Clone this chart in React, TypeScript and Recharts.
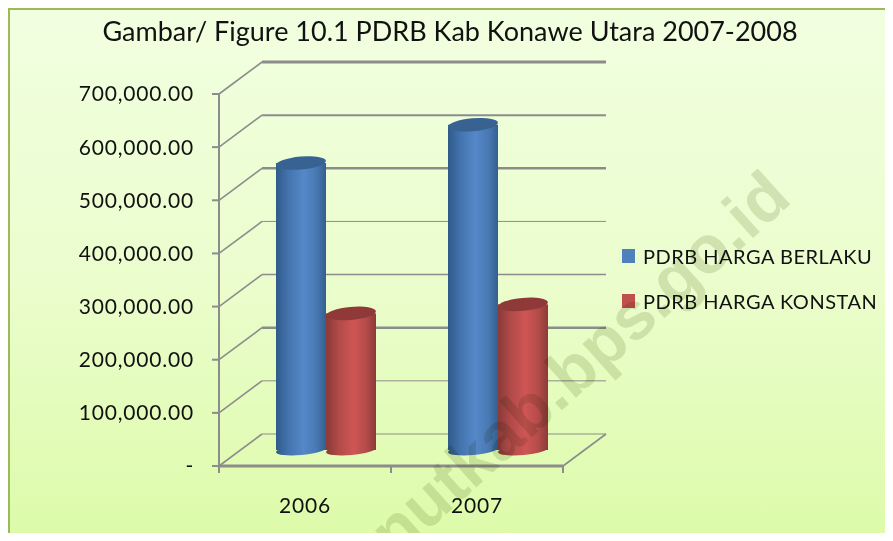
import { Bar, BarChart, CartesianGrid, Legend, XAxis, YAxis } from "recharts";

const years = ["2006", "2007"];
const hargaBerlaku = [540000, 612000];
const hargaKonstan = [257000, 274000];
const yTicks = [0, 100000, 200000, 300000, 400000, 500000, 600000, 700000];

// wall line weights, bottom to top
const wallWeights = [1, 1, 2.5, 1.5, 1, 2.5, 2, 3];

const chartData = years.map((year, i) => ({
  year,
  berlaku: hargaBerlaku[i],
  konstan: hargaKonstan[i],
}));

const FONT = "Lato, 'Open Sans', sans-serif";
const AXIS = "#8c8c8c";
const DEPTH_X = 43;
const DEPTH_Y = 32;
const BAR_DX = 21;
const BAR_DY = 16;

const formatTick = (v: number) =>
  v === 0
    ? "-"
    : v.toLocaleString("en-US", { minimumFractionDigits: 2, maximumFractionDigits: 2 });

function WallLine(props: any) {
  const { x1, x2, y1, index } = props;
  const backY = y1 - DEPTH_Y;
  return (
    <g key={`wall-${index}`}>
      <line x1={x1} y1={y1} x2={x1 + DEPTH_X} y2={backY} stroke={AXIS} strokeWidth={1.6} />
      <line
        x1={x1 + DEPTH_X}
        y1={backY}
        x2={x2 + DEPTH_X}
        y2={backY}
        stroke={AXIS}
        strokeWidth={wallWeights[index] ?? 1}
      />
      {index === 0 && (
        <line x1={x2} y1={y1} x2={x2 + DEPTH_X} y2={backY} stroke={AXIS} strokeWidth={1.6} />
      )}
    </g>
  );
}

function Cylinder(props: any) {
  const { x, y, width, height, gradient, cap } = props;
  const left = x + BAR_DX;
  const top = y - BAR_DY;
  const cx = left + width / 2;
  const bottom = top + height;
  return (
    <g>
      <ellipse
        cx={cx}
        cy={bottom}
        rx={width / 2}
        ry={5}
        fill={`url(#${gradient})`}
        transform={`rotate(-5 ${cx} ${bottom})`}
      />
      <rect x={left} y={top} width={width} height={height} fill={`url(#${gradient})`} />
      <ellipse
        cx={cx}
        cy={top}
        rx={width / 2}
        ry={6.5}
        fill={cap}
        transform={`rotate(-5 ${cx} ${top})`}
      />
    </g>
  );
}

function YearTick(props: any) {
  const { x, y, width, visibleTicksCount, payload, index } = props;
  const band = width / visibleTicksCount;
  const left = x - band / 2;
  return (
    <g>
      <line x1={left} y1={y - 8} x2={left} y2={y - 1} stroke={AXIS} strokeWidth={2} />
      {index === visibleTicksCount - 1 && (
        <line x1={left + band} y1={y - 8} x2={left + band} y2={y - 1} stroke={AXIS} strokeWidth={2} />
      )}
      <text x={x} y={y + 39} textAnchor="middle" fontFamily={FONT} fontSize={21} letterSpacing={0.8} fill="#111">
        {payload.value}
      </text>
    </g>
  );
}

function LegendBox({ payload }: any) {
  return (
    <div>
      {(payload ?? []).map((item: any) => (
        <div
          key={item.value}
          style={{ display: "flex", alignItems: "center", height: 45, whiteSpace: "nowrap" }}
        >
          <span style={{ width: 13, height: 14, marginRight: 8, background: item.color }} />
          <span style={{ fontFamily: FONT, fontSize: 20, color: "#111", letterSpacing: 0.5 }}>
            {item.value}
          </span>
        </div>
      ))}
    </div>
  );
}

export default function App() {
  return (
    <div
      style={{
        position: "relative",
        width: 893,
        height: 541,
        margin: -8,
        overflow: "hidden",
        background: "#fff",
      }}
    >
      <div
        style={{
          position: "absolute",
          left: 7,
          top: 7,
          width: 900,
          height: 540,
          boxSizing: "border-box",
          borderLeft: "3px solid #9bbb59",
          borderTop: "3px solid #9bbb59",
          background: "linear-gradient(180deg, #f1ffe0 0%, #ebfdcd 50%, #dcfba8 100%)",
        }}
      />
      <div
        style={{
          position: "absolute",
          left: 0,
          top: 14,
          width: 900,
          textAlign: "center",
          fontFamily: FONT,
          fontSize: 27,
          color: "#111",
          whiteSpace: "nowrap",
        }}
      >
        Gambar/ Figure 10.1 PDRB Kab Konawe Utara 2007-2008
      </div>
      <div style={{ position: "absolute", left: 0, top: 0 }}>
        <BarChart
          width={893}
          height={541}
          data={chartData}
          barSize={50}
          barGap={0}
          margin={{ top: 94, right: 330, bottom: 45, left: 0 }}
        >
          <defs>
            <linearGradient id="blueBody" x1="0" y1="0" x2="1" y2="0">
              <stop offset="0%" stopColor="#2f5a8a" />
              <stop offset="25%" stopColor="#4474ae" />
              <stop offset="55%" stopColor="#5588c9" />
              <stop offset="80%" stopColor="#4a7ab5" />
              <stop offset="100%" stopColor="#345f8f" />
            </linearGradient>
            <linearGradient id="redBody" x1="0" y1="0" x2="1" y2="0">
              <stop offset="0%" stopColor="#8a3a38" />
              <stop offset="25%" stopColor="#b04a48" />
              <stop offset="55%" stopColor="#ce5655" />
              <stop offset="80%" stopColor="#b54c4a" />
              <stop offset="100%" stopColor="#8c3b39" />
            </linearGradient>
          </defs>
          <CartesianGrid vertical={false} horizontal={WallLine} />
          <XAxis
            dataKey="year"
            stroke={AXIS}
            strokeWidth={3}
            tickLine={false}
            interval={0}
            tick={YearTick}
          />
          <YAxis
            type="number"
            domain={[0, 700000]}
            ticks={yTicks}
            tickFormatter={formatTick}
            interval={0}
            width={219}
            stroke={AXIS}
            strokeWidth={2}
            tickSize={7}
            tickMargin={18}
            tick={{ fontFamily: FONT, fontSize: 21, letterSpacing: 0.8, fill: "#111" }}
          />
          <Legend
            layout="vertical"
            align="center"
            verticalAlign="middle"
            wrapperStyle={{ left: 622, top: 233, width: 270 }}
            content={<LegendBox />}
          />
          <Bar
            dataKey="berlaku"
            name="PDRB HARGA BERLAKU"
            fill="#4f81bd"
            isAnimationActive={false}
            legendType="square"
            shape={<Cylinder gradient="blueBody" cap="#386292" />}
          />
          <Bar
            dataKey="konstan"
            name="PDRB HARGA KONSTAN"
            fill="#c0504d"
            isAnimationActive={false}
            legendType="square"
            shape={<Cylinder gradient="redBody" cap="#8f3a38" />}
          />
        </BarChart>
      </div>
      <div
        style={{
          position: "absolute",
          left: 380,
          top: 513,
          transformOrigin: "0 50%",
          transform: "rotate(-42deg)",
          fontFamily: "'Liberation Sans', sans-serif",
          fontWeight: 700,
          fontSize: 67,
          lineHeight: "60px",
          color: "rgb(225, 228, 215)",
          mixBlendMode: "multiply",
          whiteSpace: "nowrap",
        }}
      >
        nutkab.bps.go.id
      </div>
    </div>
  );
}
